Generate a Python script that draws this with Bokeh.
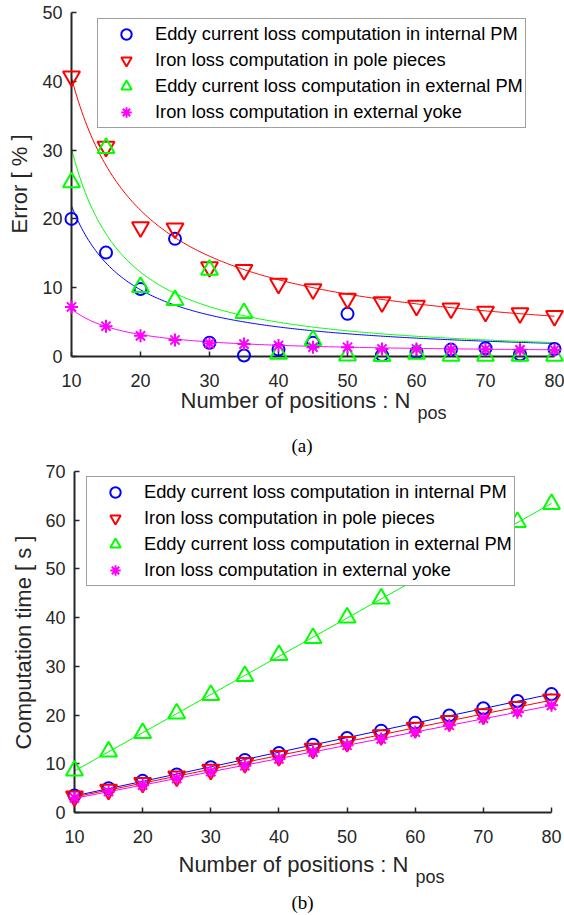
import math
import numpy as np
from bokeh.plotting import figure
from bokeh.models import Range1d, Legend, LegendItem, Label, FixedTicker
from bokeh.layouts import column
from bokeh.embed import file_html
from bokeh.resources import INLINE

# ---------------- data ----------------
npos = [10, 15, 20, 25, 30, 35, 40, 45, 50, 55, 60, 65, 70, 75, 80]

# (a) error [%]
err_internal_pm = [20.0, 15.1, 9.8, 17.1, 2.0, 0.15, 1.0, 2.0, 6.2, 0.2, 0.6, 1.0, 1.2, 0.3, 1.1]
err_pole_pieces = [40.7, 30.5, 18.8, 18.6, 13.0, 12.6, 10.6, 9.8, 8.4, 7.9, 7.4, 7.0, 6.5, 6.3, 5.9]
err_external_pm = [25.3, 30.3, 10.1, 8.2, 12.6, 6.3, 0.4, 2.4, 0.15, 0.05, 0.4, 0.1, 0.1, 0.1, 0.1]
err_external_yoke = [7.2, 4.4, 3.0, 2.4, 1.9, 1.8, 1.6, 1.35, 1.35, 1.1, 1.1, 1.0, 1.05, 0.97, 0.95]

# power-law trend curves drawn in (a):  a * (N/10)**b + c
fit_internal_pm = (21.9, -1.175, 0.0)
fit_pole_pieces = (40.5, -0.93, 0.0)
fit_external_pm = (30.2, -1.30, 0.0)
fit_external_yoke = (6.4, -1.25, 0.5)

# (b) computation time [s]
time_internal_pm = [3.5, 5.0, 6.5, 7.8, 9.3, 10.8, 12.2, 13.9, 15.3, 16.8, 18.4, 19.9, 21.4, 22.9, 24.3]
time_pole_pieces = [3.3, 4.7, 6.1, 7.4, 8.8, 10.2, 11.6, 13.1, 14.5, 15.9, 17.4, 18.8, 20.2, 21.7, 23.2]
time_external_pm = [8.6, 12.5, 16.3, 20.3, 24.1, 28.0, 32.3, 35.8, 40.0, 43.9, 47.8, 51.7, 55.6, 59.6, 63.3]
time_external_yoke = [3.0, 4.3, 5.6, 7.0, 8.4, 9.6, 11.0, 12.4, 13.8, 15.1, 16.5, 17.9, 19.3, 20.6, 22.0]

series_labels = [
    "Eddy current loss computation in internal PM",
    "Iron loss computation in pole pieces",
    "Eddy current loss computation in external PM",
    "Iron loss computation in external yoke",
]
x_ticks = [10, 20, 30, 40, 50, 60, 70, 80]
err_ticks = [0, 10, 20, 30, 40, 50]
time_ticks = [0, 10, 20, 30, 40, 50, 60, 70]

# ---------------- styles ----------------
colors = ["#0000ff", "#ff0000", "#00ff00", "#ff00ff"]
markers = ["circle", "inverted_triangle", "triangle", "asterisk"]
sizes = [12, 17, 17, 13]
AX = "#262626"
FONT = "Liberation Sans"
W = 564


def x_range_for(px10, px80):
    s = (px80 - px10) / 70.0
    return Range1d(10 - px10 / s, 80 + (W - px80) / s)


def y_range_for(ymax, px0, pxmax, H):
    s = (px0 - pxmax) / float(ymax)
    return Range1d(-(H - px0) / s, px0 / s)


def base_fig(H, xr, yr, ymax, yticks):
    p = figure(frame_width=W, frame_height=H,
               min_border_left=0, min_border_right=0,
               min_border_top=0, min_border_bottom=0,
               x_range=xr, y_range=yr,
               output_backend="svg", toolbar_location=None,
               background_fill_color="white", border_fill_color="white")
    p.outline_line_color = None
    p.grid.visible = False
    p.xaxis.ticker = FixedTicker(ticks=x_ticks)
    p.yaxis.ticker = FixedTicker(ticks=yticks)
    p.xaxis.fixed_location = 0
    p.yaxis.fixed_location = 10
    p.xaxis.bounds = (10, 80)
    p.yaxis.bounds = (0, ymax)
    for ax in (p.xaxis[0], p.yaxis[0]):
        ax.axis_line_width = 2
        ax.axis_line_color = AX
        ax.major_tick_in = 5
        ax.major_tick_out = 0
        ax.minor_tick_in = 0
        ax.minor_tick_out = 0
        ax.major_tick_line_width = 1.5
        ax.major_tick_line_color = AX
        ax.major_label_text_font = FONT
        ax.major_label_text_font_size = "18px"
        ax.major_label_text_color = AX
    p.xaxis.major_label_standoff = 17
    p.yaxis.major_label_standoff = 9
    return p


def add_points(p, ys_list):
    rs = []
    for ys, c, m, s in zip(ys_list, colors, markers, sizes):
        r = p.scatter(npos, ys, marker=m, size=s, fill_color=None,
                      line_color=c, line_width=2, level="overlay")
        rs.append(r)
    return rs


def add_legend(p, rs, loc):
    items = [LegendItem(label=lab, renderers=[r]) for lab, r in zip(series_labels, rs)]
    lg = Legend(items=items, location=loc, orientation="vertical",
                label_text_font=FONT, label_text_font_size="18.3px",
                label_text_color="#000000",
                border_line_color="#404040", border_line_width=1,
                background_fill_color="white", background_fill_alpha=1.0,
                padding=2, spacing=0, margin=0,
                glyph_width=52, glyph_height=26, label_height=20,
                label_standoff=3)
    lg.level = "overlay"
    p.add_layout(lg)


def txt(p, H, top, text, x, page_y, size, font=FONT, color=AX, align="left", angle=0.0):
    # page_y = vertical centre of the text on the page
    p.add_layout(Label(x=x, y=H - (page_y - top), x_units="screen", y_units="screen",
                       text=text, text_font=font, text_font_size=size,
                       text_color=color, text_align=align,
                       text_baseline="middle", angle=angle, level="overlay"))


# ---------------- (a) ----------------
TA, HA = 0, 457
pa = base_fig(HA, x_range_for(71, 554), y_range_for(50, 356 - TA, 12 - TA, HA), 50, err_ticks)
xc = np.linspace(10, 80, 281)
for (a, b, c), col in zip([fit_internal_pm, fit_pole_pieces, fit_external_pm, fit_external_yoke], colors):
    pa.line(xc, a * (xc / 10.0) ** b + c, line_color=col, line_width=1)
ra = add_points(pa, [err_internal_pm, err_pole_pieces, err_external_pm, err_external_yoke])
add_legend(pa, ra, (97, HA - (128 - TA)))
txt(pa, HA, TA, "Error [ % ]", 19, 183.5, "22px", align="center", angle=math.pi / 2)
txt(pa, HA, TA, "Number of positions : N", 180, 400, "22px")
txt(pa, HA, TA, "pos", 417, 412, "18px")
txt(pa, HA, TA, "(a)", 301.5, 445, "19px", font="Liberation Serif", color="#000000", align="center")

# ---------------- (b) ----------------
TB, HB = 457, 457
pb = base_fig(HB, x_range_for(74, 551), y_range_for(70, 812 - TB, 471 - TB, HB), 70, time_ticks)
times = [time_internal_pm, time_pole_pieces, time_external_pm, time_external_yoke]
for ys, col in zip(times, colors):
    k, d = np.polyfit(npos, ys, 1)
    xs = np.array([npos[0], npos[-1]], dtype=float)
    pb.line(xs, k * xs + d, line_color=col, line_width=1)
rb = add_points(pb, times)
add_legend(pb, rb, (86, HB - (586 - TB)))
txt(pb, HB, TB, "Computation time [ s ]", 23, 642, "22px", align="center", angle=math.pi / 2)
txt(pb, HB, TB, "Number of positions : N", 178, 864, "22px")
txt(pb, HB, TB, "pos", 415, 876, "18px")
txt(pb, HB, TB, "(b)", 302, 901.5, "19px", font="Liberation Serif", color="#000000", align="center")

layout = column(pa, pb, spacing=0)
open("out.html", "w").write(file_html(layout, INLINE))
